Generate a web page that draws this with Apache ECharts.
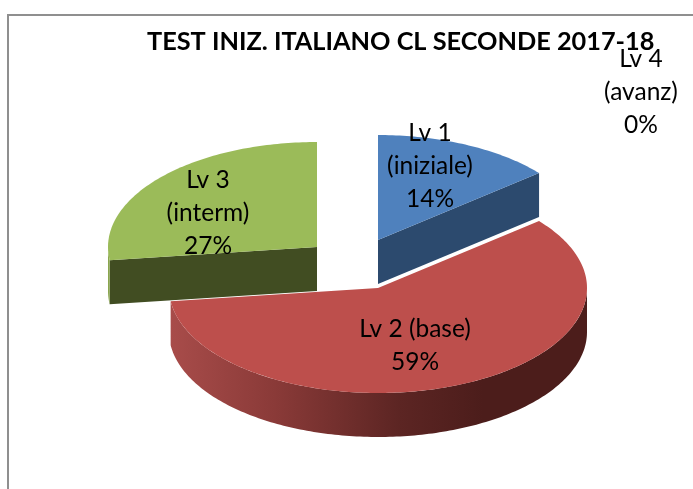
<!DOCTYPE html>
<html>
<head>
<meta charset="utf-8">
<style>html,body{margin:0;padding:0;background:#fff}#c{width:693px;height:489px}</style>
<script src="https://cdn.jsdelivr.net/npm/echarts@6/dist/echarts.min.js"></script>
</head>
<body>
<div id="c"></div>
<script>
const titleText = 'TEST INIZ. ITALIANO CL SECONDE 2017-18';
const categories = ['Lv 1\n(iniziale)', 'Lv 2 (base)', 'Lv 3\n(interm)', 'Lv 4\n(avanz)'];
const values = [14, 59, 27, 0];

const topColors = ['#4f81bd', '#bd4f4c', '#9bbb59', '#8064a2'];
const cutColors = ['#2c4a6e', '#6b2c2a', '#414d22', '#4b3a60'];
const wallStops = [
  [[0, '#2c4a6e'], [1, '#2c4a6e']],
  [[0, '#a84c4a'], [0.25, '#8a3a38'], [0.55, '#5c2523'], [0.75, '#4c1d1b'], [1, '#4c1d1b']],
  [[0, '#8aa64e'], [1, '#8aa64e']],
  [[0, '#4b3a60'], [1, '#4b3a60']]
];
const apexes = [[378, 240], [378, 288], [317, 247], [378, 240]];
const labelCenters = [[430, 166], [415, 346], [208, 213], [641, 92]];
const RX = 209, RY = 105, DEPTH = 44, LINE_H = 33;

const total = values.reduce((a, b) => a + b, 0);
const rad = d => d * Math.PI / 180;
function pt(c, deg, dy) {
  return [c[0] + RX * Math.sin(rad(deg)), c[1] - RY * Math.cos(rad(deg)) + (dy || 0)];
}
function arc(c, a, b, dy) {
  const out = [], n = Math.max(2, Math.ceil(Math.abs(b - a)));
  for (let i = 0; i <= n; i++) out.push(pt(c, a + (b - a) * i / n, dy));
  return out;
}

function renderItem(params, api) {
  const i = params.dataIndex;
  const v = api.value(0);
  let before = 0;
  for (let k = 0; k < i; k++) before += values[k];
  const a0 = before / total * 360, a1 = (before + v) / total * 360;
  const c = apexes[i];
  const children = [];
  if (v > 0) {
    const cut = deg => {
      const p = pt(c, deg);
      children.push({
        type: 'polygon',
        shape: { points: [c, p, [p[0], p[1] + DEPTH], [c[0], c[1] + DEPTH]] },
        style: { fill: cutColors[i] }
      });
    };
    if (a0 > 180 && a0 < 360) cut(a0);
    if (a1 > 0 && a1 < 180) cut(a1);
    const w0 = Math.max(a0, 90), w1 = Math.min(a1, 270);
    if (w1 > w0) {
      const top = arc(c, w0, w1, 0), bottom = arc(c, w1, w0, DEPTH);
      children.push({
        type: 'polygon',
        shape: { points: top.concat(bottom) },
        style: {
          fill: new echarts.graphic.LinearGradient(0, 0, 1, 0,
            wallStops[i].map(s => ({ offset: s[0], color: s[1] })))
        }
      });
    }
    children.push({
      type: 'polygon',
      shape: { points: [c].concat(arc(c, a0, a1, 0)) },
      style: { fill: topColors[i] }
    });
  }
  return { type: 'group', children };
}

function renderLabel(params, api) {
  const i = params.dataIndex;
  const p = labelCenters[i];
  return {
    type: 'text',
    x: p[0],
    y: p[1],
    style: {
      text: categories[i] + '\n' + api.value(0) + '%',
      font: '24.5px Lato',
      fill: '#000',
      align: 'center',
      verticalAlign: 'middle',
      lineHeight: LINE_H
    }
  };
}

const chart = echarts.init(document.getElementById('c'), null, { renderer: 'canvas' });
chart.setOption({
  animation: false,
  backgroundColor: '#fff',
  title: {
    text: titleText,
    left: 142,
    top: 24,
    textStyle: { fontFamily: 'Lato', fontWeight: 'bold', fontSize: 25.3, color: '#000' }
  },
  graphic: [{
    type: 'rect',
    z: -1,
    shape: { x: 8, y: 15, width: 800, height: 600 },
    style: { fill: '#fff', stroke: '#8f8f8f', lineWidth: 2 }
  }],
  series: [
    {
      type: 'custom',
      coordinateSystem: 'none',
      renderItem: renderItem,
      data: values.map(v => [v]),
      silent: true,
      z: 2
    },
    {
      type: 'custom',
      coordinateSystem: 'none',
      renderItem: renderLabel,
      data: values.map(v => [v]),
      silent: true,
      z: 5
    }
  ]
});
</script>
</body>
</html>
